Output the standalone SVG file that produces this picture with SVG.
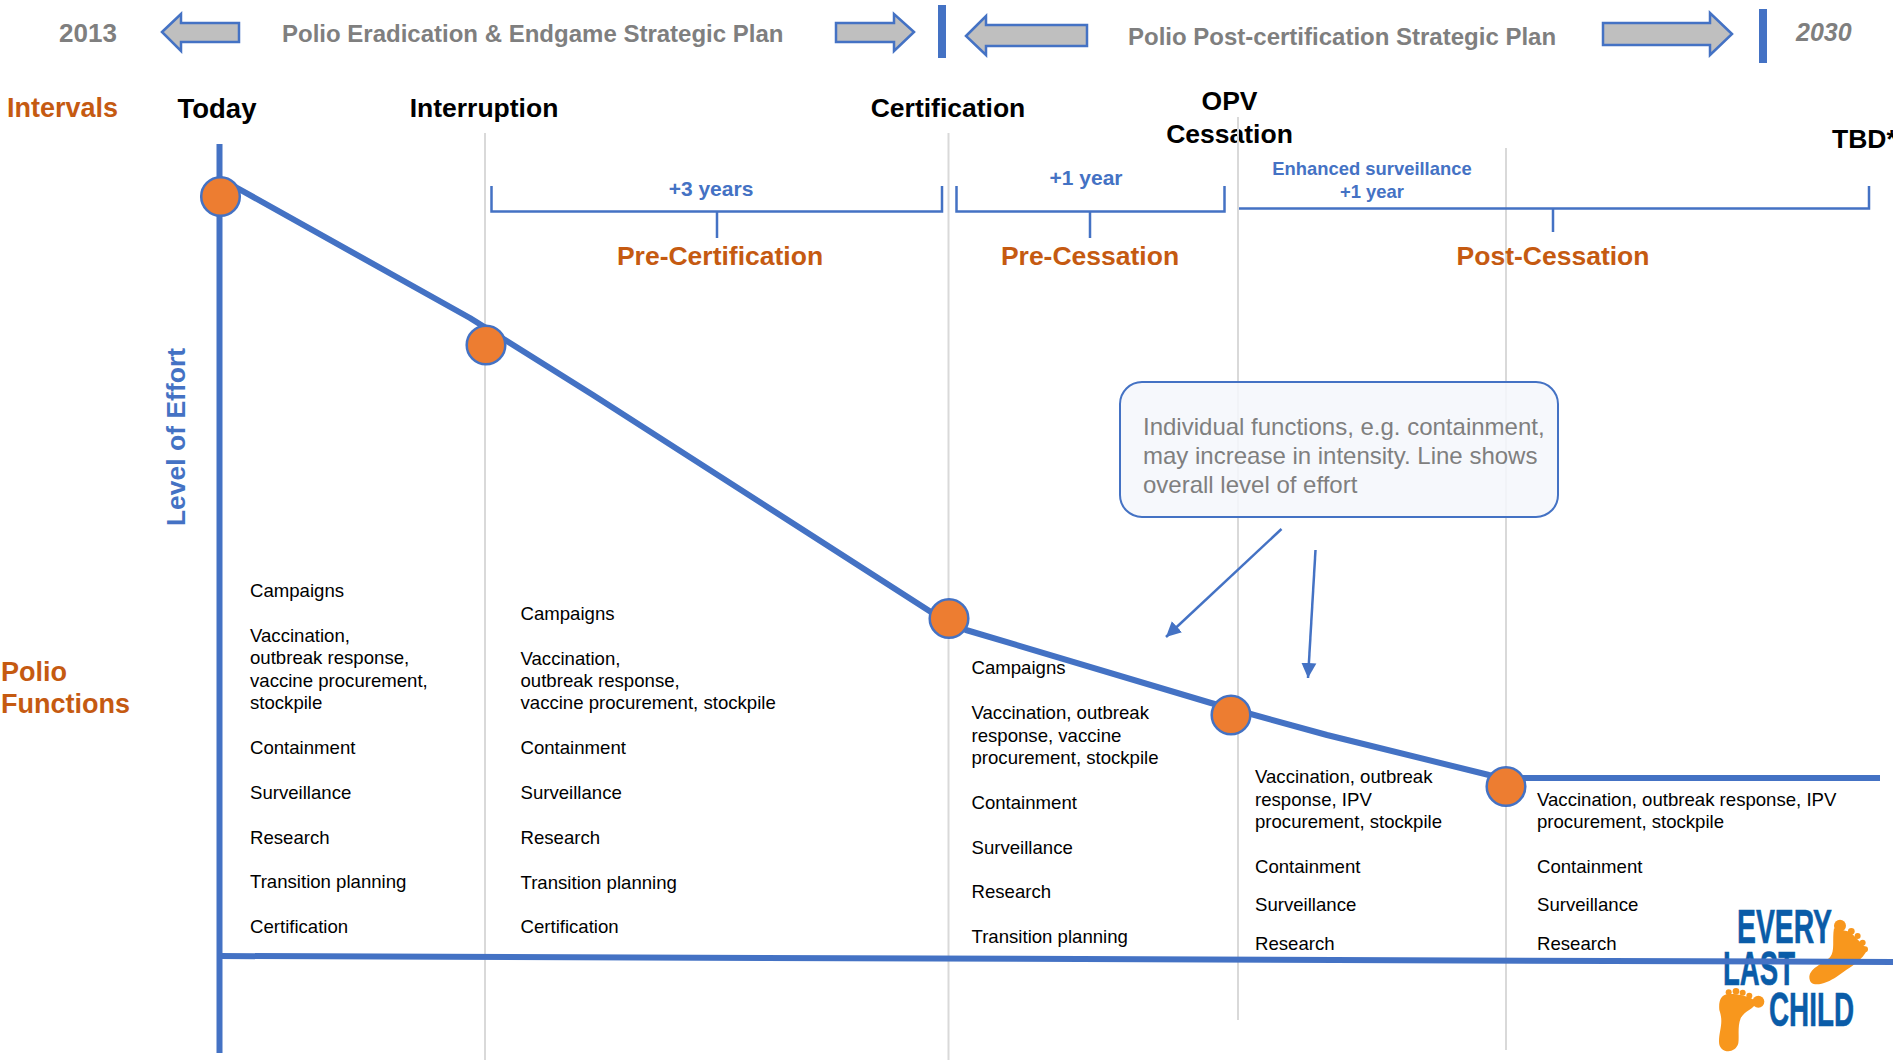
<svg xmlns="http://www.w3.org/2000/svg" width="1893" height="1060" viewBox="0 0 1893 1060">
<style>
text{font-family:"Liberation Sans",Arial,sans-serif}
.t{font-weight:700;fill:#7f7f7f;font-size:24px}
.h{font-weight:700;fill:#000;font-size:26.500px;text-anchor:middle}
.o{font-weight:700;fill:#c55a11;font-size:26.500px}
.m{text-anchor:middle}
.b{font-weight:700;fill:#4472c4;font-size:21px;text-anchor:middle}
.f{fill:#000;font-size:18.600px}
.g{stroke:#d9d9d9;stroke-width:2;fill:none}
.ax{stroke:#4472c4;stroke-width:6;fill:none}
.br{stroke:#4472c4;stroke-width:2.500;fill:none}
.ar{fill:#bfbfbf;stroke:#4472c4;stroke-width:2.500}
.bar{fill:#4472c4}
.dot{fill:#ed7d31;stroke:#4472c4;stroke-width:2.500}
.ft{fill:#f8971d}
.lg{font-weight:700;fill:#0a5ca8;stroke:#0a5ca8;stroke-width:.6;font-size:49px}
</style>
<defs>
<marker id="ah" markerUnits="userSpaceOnUse" markerWidth="17" markerHeight="16" refX="15" refY="8" orient="auto"><path d="M0,0.500L15,8L0,15.500Z" fill="#4472c4"/></marker>
</defs>
<g id="header">
<text class="t" x="88" y="42" text-anchor="middle" style="font-size:26px">2013</text>
<polygon class="ar" points="162,32 181,14 181,23 239,23 239,42 181,42 181,51"/>
<text class="t" x="282" y="42">Polio Eradication &amp; Endgame Strategic Plan</text>
<polygon class="ar" points="914,32 894,14 894,23 836,23 836,42 894,42 894,51"/>
<rect class="bar" x="938" y="5" width="8" height="53"/>
<polygon class="ar" points="966,36 986,16 986,25 1087,25 1087,46 986,46 986,55"/>
<text class="t" x="1128" y="45">Polio Post-certification Strategic Plan</text>
<polygon class="ar" points="1732,34 1710,13 1710,23 1603,23 1603,45 1710,45 1710,55"/>
<rect class="bar" x="1759" y="9" width="8" height="54"/>
<text x="1796" y="41" style="font-weight:700;font-style:italic;fill:#7f7f7f;font-size:25px">2030</text>
</g>
<g id="grid">
<line class="g" x1="485" y1="133" x2="485" y2="1060"/>
<line class="g" x1="948.500" y1="133" x2="948.500" y2="1060"/>
<line class="g" x1="1506" y1="148" x2="1506" y2="1050"/>
</g>
<g id="logo">
<text class="lg" x="1737" y="943" textLength="95" lengthAdjust="spacingAndGlyphs">EVERY</text>
<text class="lg" x="1723" y="985" textLength="72" lengthAdjust="spacingAndGlyphs">LAST</text>
<text class="lg" x="1769" y="1026" textLength="85" lengthAdjust="spacingAndGlyphs">CHILD</text>
<g transform="translate(1650,860) scale(.3333)">
<path class="ft" d="M478,350C482,322 520,312 540,292C556,274 546,240 552,205L600,215L652,268C640,300 600,322 560,350C530,370 478,390 478,350Z"/>
<circle class="ft" cx="570" cy="197" r="18"/><circle class="ft" cx="604" cy="214" r="10"/><circle class="ft" cx="623" cy="228" r="9"/><circle class="ft" cx="638" cy="248" r="9"/><circle class="ft" cx="645" cy="268" r="9"/>
<path class="ft" d="M207,545C207,510 222,490 208,450C205,420 215,400 240,402C270,402 300,410 320,425C310,450 285,450 272,475C262,500 268,530 265,550C255,585 207,580 207,545Z"/>
<circle class="ft" cx="236" cy="397" r="9"/><circle class="ft" cx="258" cy="394" r="10"/><circle class="ft" cx="278" cy="398" r="9"/><circle class="ft" cx="298" cy="407" r="9"/><circle class="ft" cx="325" cy="425" r="18"/>
</g>
</g>
<g id="labels">
<text class="o" x="7" y="117" style="font-size:27px">Intervals</text>
<text class="h" x="217" y="118" style="font-size:27.500px">Today</text>
<text class="h" x="484" y="117">Interruption</text>
<text class="h" x="948" y="117">Certification</text>
<text class="h" x="1229.500" y="110">OPV</text>
<text class="h" x="1229.500" y="143">Cessation</text>
<text class="h" x="1832" y="148" style="text-anchor:start">TBD*</text>
<text class="o" x="1" y="681" style="font-size:27px">Polio</text>
<text class="o" x="1" y="713" style="font-size:27px">Functions</text>
<text x="185" y="437" transform="rotate(-90 185 437)" text-anchor="middle" style="font-weight:700;fill:#4472c4;font-size:26.500px">Level of Effort</text>
</g>
<g id="grid-opv"><line class="g" x1="1238" y1="117" x2="1238" y2="1020"/></g>
<g id="connectors">
<line class="ax" x1="219.500" y1="144" x2="219.500" y2="1053"/>
<path class="ax" d="M220,956L1893,962"/>
<path class="ax" stroke-linejoin="round" d="M221,179L470,318L593,395L945,621L966,630L1211,703L1327,735L1489,775L1506,778L1880,778"/>
<path class="br" d="M491.500,186V211.500H942V186M717,211.500V238"/>
<path class="br" d="M956.500,186V211.500H1224.500V186M1090,211.500V238"/>
<path class="br" d="M1239,208.500H1869V186M1553,208.500V232"/>
<line class="br" x1="1281.500" y1="529" x2="1166" y2="637" marker-end="url(#ah)"/>
<line class="br" x1="1315.500" y1="550" x2="1308" y2="678" marker-end="url(#ah)"/>
</g>
<g id="brackets-text">
<text class="b" x="711" y="196">+3 years</text>
<text class="o m" x="720" y="265">Pre-Certification</text>
<text class="b" x="1086" y="185">+1 year</text>
<text class="o m" x="1090" y="265">Pre-Cessation</text>
<text class="b" x="1372" y="175" style="font-size:18.400px">Enhanced surveillance</text>
<text class="b" x="1372" y="198" style="font-size:18.400px">+1 year</text>
<text class="o m" x="1553" y="265">Post-Cessation</text>
</g>
<g id="callout">
<rect x="1120" y="382" width="438" height="135" rx="22" fill="#f4f7fc" fill-opacity=".85" stroke="#4472c4" stroke-width="2"/>
<text x="1143" y="435" style="fill:#7f7f7f;font-size:24px">Individual functions, e.g. containment,</text>
<text x="1143" y="464" style="fill:#7f7f7f;font-size:24px">may increase in intensity. Line shows</text>
<text x="1143" y="493" style="fill:#7f7f7f;font-size:24px">overall level of effort</text>
</g>
<g id="node-today"><circle class="dot" cx="220.500" cy="196.500" r="19.300"/></g>
<g id="node-interruption"><circle class="dot" cx="486" cy="345" r="19.300"/></g>
<g id="node-certification"><circle class="dot" cx="949" cy="618.500" r="19.300"/></g>
<g id="node-opv"><circle class="dot" cx="1231" cy="715" r="19.300"/></g>
<g id="node-post"><circle class="dot" cx="1506" cy="786.500" r="19.300"/></g>
<g id="col1">
<text class="f" x="250" y="597">Campaigns</text>
<text class="f" x="250" y="642">Vaccination,</text>
<text class="f" x="250" y="664">outbreak response,</text>
<text class="f" x="250" y="687">vaccine procurement,</text>
<text class="f" x="250" y="709">stockpile</text>
<text class="f" x="250" y="754">Containment</text>
<text class="f" x="250" y="799">Surveillance</text>
<text class="f" x="250" y="844">Research</text>
<text class="f" x="250" y="888">Transition planning</text>
<text class="f" x="250" y="933">Certification</text>
</g>
<g id="col2">
<text class="f" x="520.500" y="620">Campaigns</text>
<text class="f" x="520.500" y="665">Vaccination,</text>
<text class="f" x="520.500" y="687">outbreak response,</text>
<text class="f" x="520.500" y="709">vaccine procurement, stockpile</text>
<text class="f" x="520.500" y="754">Containment</text>
<text class="f" x="520.500" y="799">Surveillance</text>
<text class="f" x="520.500" y="844">Research</text>
<text class="f" x="520.500" y="889">Transition planning</text>
<text class="f" x="520.500" y="933">Certification</text>
</g>
<g id="col3">
<text class="f" x="971.500" y="674">Campaigns</text>
<text class="f" x="971.500" y="719">Vaccination, outbreak</text>
<text class="f" x="971.500" y="742">response, vaccine</text>
<text class="f" x="971.500" y="764">procurement, stockpile</text>
<text class="f" x="971.500" y="809">Containment</text>
<text class="f" x="971.500" y="854">Surveillance</text>
<text class="f" x="971.500" y="898">Research</text>
<text class="f" x="971.500" y="943">Transition planning</text>
</g>
<g id="col4">
<text class="f" x="1255" y="783">Vaccination, outbreak</text>
<text class="f" x="1255" y="806">response, IPV</text>
<text class="f" x="1255" y="828">procurement, stockpile</text>
<text class="f" x="1255" y="873">Containment</text>
<text class="f" x="1255" y="911">Surveillance</text>
<text class="f" x="1255" y="950">Research</text>
</g>
<g id="col5">
<text class="f" x="1537" y="806">Vaccination, outbreak response, IPV</text>
<text class="f" x="1537" y="828">procurement, stockpile</text>
<text class="f" x="1537" y="873">Containment</text>
<text class="f" x="1537" y="911">Surveillance</text>
<text class="f" x="1537" y="950">Research</text>
</g>
</svg>
